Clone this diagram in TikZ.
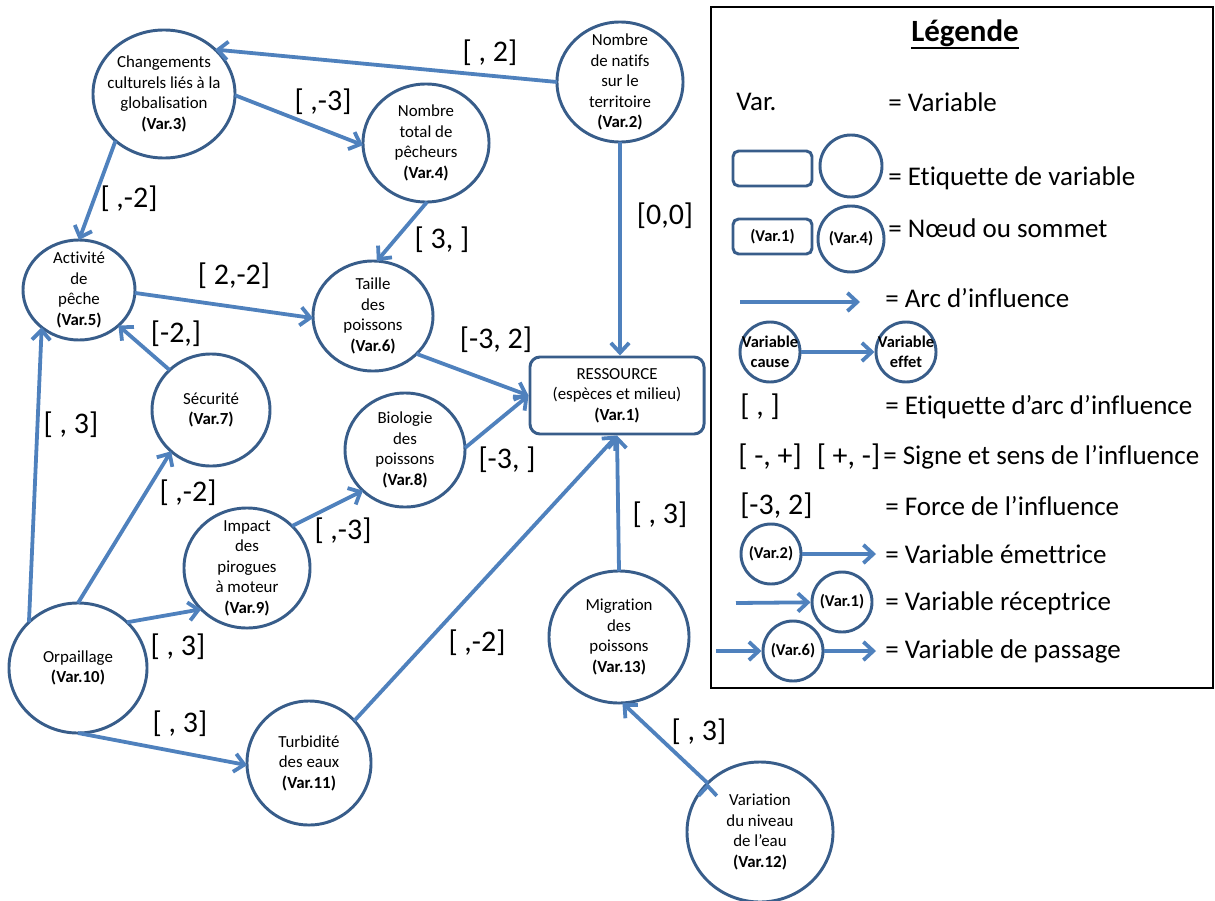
\documentclass[tikz,border=0pt]{standalone}
\usepackage{fontspec}
\setmainfont{Carlito}[Ligatures=NoCommon]
\usetikzlibrary{arrows.meta,shapes.geometric}
\definecolor{edgeblue}{RGB}{79,129,189}
\definecolor{nodeblue}{RGB}{56,93,138}

\begin{document}
\begin{tikzpicture}[x=0.025cm, y=-0.025cm, >={Straight Barb[length=7pt,width=13pt]},
                    var/.style={ellipse, draw=nodeblue, line width=2.1pt, inner sep=0pt, outer sep=0pt},
                    ring/.style={circle, draw=nodeblue, line width=2.1pt, inner sep=0pt, minimum size=1.5cm},
                    box/.style={rectangle, rounded corners=0.14cm, draw=nodeblue, line width=2.1pt, minimum width=1.975cm, minimum height=0.875cm, inner sep=0pt},
                    txt/.style={align=center, inner sep=0pt, font=\fontsize{12}{14.6}\selectfont},
                    ltxt/.style={align=center, inner sep=0pt, font=\bfseries\fontsize{11.7}{14.2}\selectfont},
                    lbl/.style={inner sep=0pt, font=\fontsize{21.3}{25}\selectfont},
                    leg/.style={anchor=west, inner sep=0pt, font=\fontsize{19.2}{23}\selectfont},
                    arc/.style={->, draw=edgeblue, line width=2.7pt},
                    ]
                    \useasboundingbox (0,0) rectangle (1215,900);

                    % variables
                    \node [rectangle, rounded corners=0.25cm, draw=nodeblue, line width=2.1pt, minimum width=4.35cm, minimum height=1.925cm, txt](var1) at (617,395.5) {RESSOURCE\\(espèces et milieu)\\\textbf{(Var.1)}};
                    \node [var, minimum width=3.15cm, minimum height=3cm, label={[txt]center:Nombre\\de natifs\\sur le\\territoire\\\textbf{(Var.2)}}](var2) at (620,82) {};
                    \node [var, minimum width=3.55cm, minimum height=3.2cm, label={[txt]center:Changements\\culturels liés à la\\globalisation\\\textbf{(Var.3)}}](var3) at (164,94) {};
                    \node [var, minimum width=3.15cm, minimum height=2.95cm, label={[txt]center:Nombre\\total de\\pêcheurs\\\textbf{(Var.4)}}](var4) at (426,143) {};
                    \node [var, minimum width=2.8cm, minimum height=2.5cm, label={[txt]center:Activité\\de\\pêche\\\textbf{(Var.5)}}](var5) at (79,290) {};
                    \node [var, minimum width=3cm, minimum height=2.75cm, label={[txt]center:Taille\\des\\poissons\\\textbf{(Var.6)}}](var6) at (373,316) {};
                    \node [var, minimum width=2.95cm, minimum height=2.8cm, label={[txt]center:Sécurité\\\textbf{(Var.7)}}](var7) at (211,410) {};
                    \node [var, minimum width=3cm, minimum height=2.85cm, label={[txt]center:Biologie\\des\\poissons\\\textbf{(Var.8)}}](var8) at (405,450) {};
                    \node [var, minimum width=3.15cm, minimum height=3cm, label={[txt]center:Impact\\des\\pirogues\\à moteur\\\textbf{(Var.9)}}](var9) at (247,568) {};
                    \node [var, minimum width=3.45cm, minimum height=3.25cm, label={[txt]center:Orpaillage\\\textbf{(Var.10)}}](var10) at (78,668) {};
                    \node [var, minimum width=3.1cm, minimum height=3.1cm, label={[txt]center:Turbidité\\des eaux\\\textbf{(Var.11)}}](var11) at (309,763) {};
                    \node [var, minimum width=3.65cm, minimum height=3.5cm, label={[txt]center:Variation\\du niveau\\de l’eau\\\textbf{(Var.12)}}](var12) at (760,832) {};
                    \node [var, minimum width=3.5cm, minimum height=3.3cm, label={[txt]center:Migration\\des\\poissons\\\textbf{(Var.13)}}](var13) at (619,637) {};

                    % arcs d'influence
                    \path[arc]
                        (var2.180) edge (var3.41)
                        (var3.-1) edge (var4.182)
                        (var3.224) edge (var5.90)
                        (var4.271) edge (var6.86)
                        (var2.south) edge (var2.south |- var1.north)
                        (var5.357) edge (var6.182)
                        (var7.136) edge (var5.318)
                        (var6.319) edge (var1.west)
                        (var8.2) edge (var1.west)
                        (var10.137) edge (var5.225)
                        (var10.90) edge (var7.226)
                        (var9.43) edge (var8.224)
                        (var10.43) edge (var9.222)
                        (var10.270) edge (var11.182)
                        (var11.43) edge (var1.south)
                        (var13.north) edge (var1.south)
                        (var12.137) edge (var13.273)
                    ;

                    \node [lbl](a23) at (490,53) {[ , 2]};
                    \node [lbl](a34) at (323,102) {[ ,-3]};
                    \node [lbl](a35) at (129,199) {[ ,-2]};
                    \node [lbl](a46) at (442,240) {[ 3, ]};
                    \node [lbl](a21) at (665,216) {[0,0]};
                    \node [lbl](a56) at (234,276) {[ 2,-2]};
                    \node [lbl](a75) at (176,334) {[-2,]};
                    \node [lbl](a61) at (496,340) {[-3, 2]};
                    \node [lbl](a81) at (507,460) {[-3, ]};
                    \node [lbl](a105) at (71,425) {[ , 3]};
                    \node [lbl](a107) at (188,493) {[ ,-2]};
                    \node [lbl](a98) at (343,531) {[ ,-3]};
                    \node [lbl](a109) at (178,647) {[ , 3]};
                    \node [lbl](a1011) at (180,724) {[ , 3]};
                    \node [lbl](a111) at (477,643) {[ ,-2]};
                    \node [lbl](a131) at (660,515) {[ , 3]};
                    \node [lbl](a1213) at (699,732) {[ , 3]};

                    % legende
                    \draw[black, line width=1.4pt] (711,7) rectangle (1213,688);
                    \node [inner sep=0pt, font=\bfseries\fontsize{22}{26}\selectfont](title) at (965,33) {Légende};
                    \draw[black, line width=1.5pt] ([yshift=-1pt]title.south west) -- ([yshift=-1pt]title.south east);

                    \node [leg](k1) at (736,102) {Var.};
                    \node [leg](d1) at (888,102) {= Variable};

                    \node [box](b1) at (772.5,168.5) {};
                    \node [ring, minimum size=1.55cm](r1) at (851,166) {};
                    \node [leg](d2) at (888,178) {= Etiquette de variable};

                    \node [box, ltxt](b2) at (772.5,236.5) {(Var.1)};
                    \node [ring, minimum size=1.65cm, label={[ltxt]center:(Var.4)}](r2) at (851,239) {};
                    \node [leg](d3) at (888,228) {= Nœud ou sommet};

                    \coordinate (p1) at (740,302);
                    \coordinate (p2) at (860,302);
                    \draw[arc] (p1) -- (p2);
                    \node [leg](d4) at (885,298) {= Arc d’influence};

                    \node [ring, label={[ltxt]center:Variable\\cause}](cause) at (770,352) {};
                    \node [ring, label={[ltxt]center:Variable\\effet}](effet) at (906,352) {};
                    \draw[arc] (cause) -- (effet);

                    \node [leg, lbl, anchor=west](k5) at (740,407) {[ , ]};
                    \node [leg](d5) at (885,407) {= Etiquette d’arc d’influence};
                    \node [lbl, anchor=west](k6) at (738,457) {[ -, +]\enspace[ +, -]};
                    \node [leg](d6) at (883,457) {= Signe et sens de l’influence};
                    \node [lbl, anchor=west](k7) at (740,506) {[-3, 2]};
                    \node [leg](d7) at (885,506) {= Force de l’influence};

                    \node [ring, label={[ltxt]center:(Var.2)}](r3) at (771,554) {};
                    \coordinate (q1) at (876,554);
                    \draw[arc] (r3) -- (q1);
                    \node [leg](d8) at (885,554) {= Variable émettrice};

                    \coordinate (q2) at (736,603);
                    \node [ring, label={[ltxt]center:(Var.1)}](r4) at (842,602) {};
                    \draw[arc] (q2) -- (r4);
                    \node [leg](d9) at (885,603) {= Variable réceptrice};

                    \coordinate (q3) at (716,651);
                    \node [ring, label={[ltxt]center:(Var.6)}](r5) at (793,651) {};
                    \coordinate (q4) at (876,651);
                    \draw[arc] (q3) -- (r5);
                    \draw[arc] (r5) -- (q4);
                    \node [leg](d10) at (885,651) {= Variable de passage};

\end{tikzpicture}
\end{document}
